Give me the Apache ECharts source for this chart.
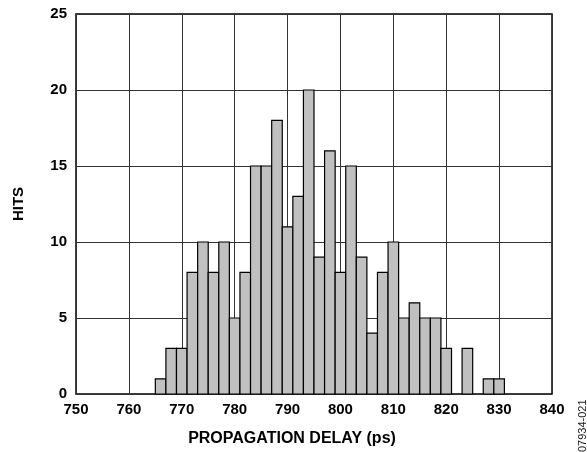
<!DOCTYPE html>
<html>
<head>
<meta charset="utf-8">
<script src="https://cdn.jsdelivr.net/npm/echarts@6/dist/echarts.min.js"></script>
<style>
  html, body { margin: 0; padding: 0; background: #fff; }
  #chart { width: 587px; height: 452px; }
</style>
</head>
<body>
<div id="chart"></div>
<script>
  // bin centres (ps), each bin 2 ps wide
  const binCenters = [766, 768, 770, 772, 774, 776, 778, 780, 782, 784, 786, 788, 790,
    792, 794, 796, 798, 800, 802, 804, 806, 808, 810, 812, 814, 816, 818, 820, 822,
    824, 826, 828, 830];
  const hits = [1, 3, 3, 8, 10, 8, 10, 5, 8, 15, 15, 18, 11,
    13, 20, 9, 16, 8, 15, 9, 4, 8, 10, 5, 6, 5, 5, 3, 0,
    3, 0, 1, 1];
  const binWidth = 2;
  const xTicks = [750, 840, 10];
  const yTicks = [0, 25, 5];

  const font = 'Liberation Sans, Arial, sans-serif';
  const myChart = echarts.init(document.getElementById('chart'), null, { renderer: 'canvas' });

  const data = binCenters.map((c, i) => [c, hits[i]]).filter(d => d[1] > 0);

  const option = {
    animation: false,
    grid: {
      left: 76, right: 35, top: 14, bottom: 56,
      show: true, borderColor: '#000', borderWidth: 1.5
    },
    xAxis: {
      type: 'value',
      min: xTicks[0], max: xTicks[1], interval: xTicks[2],
      name: 'PROPAGATION DELAY (ps)',
      nameLocation: 'middle',
      nameGap: 37,
      nameTextStyle: {
        fontFamily: font, fontWeight: 'bold', fontSize: 16, color: '#000',
        padding: [0, 44, 0, 0]
      },
      axisLine: { show: false },
      axisTick: { show: false },
      axisLabel: { fontFamily: font, fontWeight: 'bold', fontSize: 15, color: '#000', margin: 8 },
      splitLine: { show: true, lineStyle: { color: '#333', width: 1 } }
    },
    yAxis: {
      type: 'value',
      min: yTicks[0], max: yTicks[1], interval: yTicks[2],
      name: 'HITS',
      nameLocation: 'middle',
      nameGap: 50,
      nameTextStyle: { fontFamily: font, fontWeight: 'bold', fontSize: 15, color: '#000' },
      axisLine: { show: false },
      axisTick: { show: false },
      axisLabel: { fontFamily: font, fontWeight: 'bold', fontSize: 15, color: '#000', margin: 9 },
      splitLine: { show: true, lineStyle: { color: '#333', width: 1 } }
    },
    series: [{
      type: 'custom',
      data: data,
      renderItem: function (params, api) {
        const c = api.value(0);
        const v = api.value(1);
        const p0 = api.coord([c - binWidth / 2, v]);
        const p1 = api.coord([c + binWidth / 2, 0]);
        return {
          type: 'rect',
          shape: { x: p0[0], y: p0[1], width: p1[0] - p0[0], height: p1[1] - p0[1] },
          style: { fill: '#c0c0c0', stroke: '#000', lineWidth: 1.2 }
        };
      },
      encode: { x: 0, y: 1 },
      z: 3
    }],
    graphic: [{
      type: 'text',
      x: 577, y: 452,
      rotation: Math.PI / 2,
      style: {
        text: '07934-021',
        font: '11px ' + font,
        fill: '#222',
        textVerticalAlign: 'top'
      }
    }]
  };

  myChart.setOption(option);
</script>
</body>
</html>
